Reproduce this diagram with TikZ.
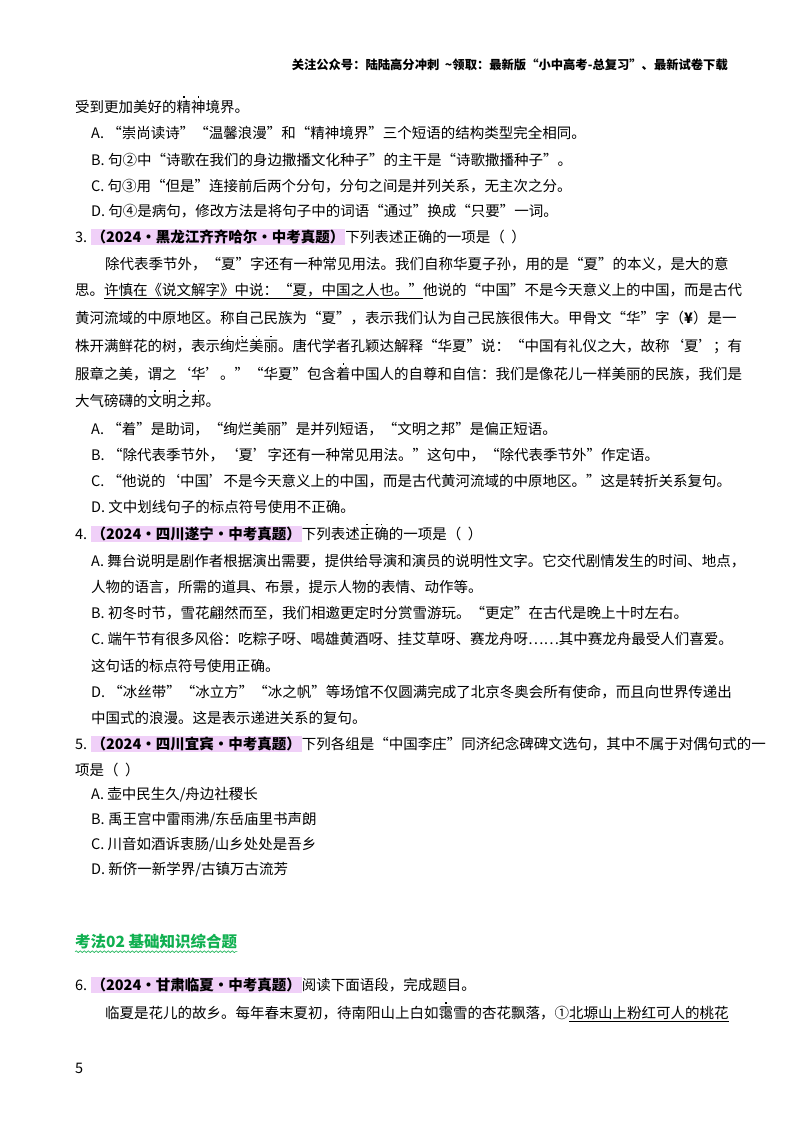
\documentclass[tikz,border=0pt]{standalone}
\usepackage{fontspec}
\usepackage{xcolor}
\usetikzlibrary{decorations.pathmorphing}
\setmainfont{Noto Sans CJK SC}
\definecolor{hl}{HTML}{F0D0F8}
\definecolor{kg}{HTML}{10B050}
\newcommand\zd[1]{\leavevmode\rlap{\raisebox{1.0em}{\makebox[1em]{\rule{1.4pt}{1.4pt}}}}#1}
\newcommand\tag[1]{{\setlength\fboxsep{1pt}\colorbox{hl}{\bfseries #1}}}
\begin{document}
\begin{tikzpicture}[x=1pt,y=-1pt,
  t/.style={anchor=west,inner sep=0pt,font=\fontsize{14.5}{15}\selectfont},
  hd/.style={anchor=east,inner sep=0pt,font=\fontsize{12.3}{13}\selectfont\bfseries}]
\useasboundingbox[fill=white] (0,0) rectangle (800,1132);
\node[hd] (h) at (728,65) {关注公众号：陆陆高分冲刺\ \ \~{}领取：最新版“小中高考-总复习”、最新试卷下载};
\node[t] (l1) at (75,105) {受到更加美好的\zd{精}\zd{神}境界。};
\node[t] (a2) at (91,133) {A.\ “崇尚读诗”“温馨浪漫”和“精神境界”三个短语的结构类型完全相同。};
\node[t] (b2) at (91,160) {B.\ 句②中“诗歌在我们的身边撒播文化种子”的主干是“诗歌撒播种子”。};
\node[t] (c2) at (91,186) {C.\ 句③用“但是”连接前后两个分句，分句之间是并列关系，无主次之分。};
\node[t] (d2) at (91,211) {D.\ 句④是病句，修改方法是将句子中的词语“通过”换成“只要”一词。};
\node[t] (q3) at (75,237) {3.\ \tag{（2024·黑龙江齐齐哈尔·中考真题）}下列表述正确的一项是（\ \ ）};
\node[t] (p1) at (105,264) {除代表季节外，“夏”字还有一种常见用法。我们自称华夏子孙，用的是“夏”的本义，是大的意};
\node[t] (p2) at (75,291) {思。\underline{许慎在《说文解字》中说：“夏，中国之人也。”}他说的“中国”不是今天意义上的中国，而是古代};
\node[t] (p3) at (75,318) {黄河流域的中原地区。称自己民族为“夏”，表示我们认为自己民族很伟大。甲骨文“华”字（\textbf{¥}）是一};
\node[t] (p4) at (75,345) {株开满鲜花的树，表示\zd{绚}\zd{烂}\zd{美}\zd{丽}。唐代学者孔颖达解释“华夏”说：“中国有礼仪之大，故称‘夏’；有};
\node[t] (p5) at (75,372) {服章之美，谓之‘华’。”“华夏”包含\zd{着}中国人的自尊和自信：我们是像花儿一样美丽的民族，我们是};
\node[t] (p6) at (75,399) {大气磅礴的\zd{文}\zd{明}\zd{之}\zd{邦}。};
\node[t] (a3) at (91,429) {A.\ “着”是助词，“绚烂美丽”是并列短语，“文明之邦”是偏正短语。};
\node[t] (b3) at (91,455) {B.\ “除代表季节外，‘夏’字还有一种常见用法。”这句中，“除代表季节外”作定语。};
\node[t] (c3) at (91,481) {C.\ “他说的‘中国’不是今天意义上的中国，而是古代黄河流域的中原地区。”这是转折关系复句。};
\node[t] (d3) at (91,507) {D.\ 文中划线句子的标点符号使用不正确。};
\node[t] (q4) at (75,533) {4.\ \tag{（2024·四川遂宁·中考真题）}下列表述\zd{正}\zd{确}的一项是（\ \ ）};
\node[t] (a4) at (91,561) {A.\ 舞台说明是剧作者根据演出需要，提供给导演和演员的说明性文字。它交代剧情发生的时间、地点，};
\node[t] (a4b) at (91,587) {人物的语言，所需的道具、布景，提示人物的表情、动作等。};
\node[t] (b4) at (91,613) {B.\ 初冬时节，雪花翩然而至，我们相邀更定时分赏雪游玩。“更定”在古代是晚上十时左右。};
\node[t] (c4) at (91,639) {C.\ 端午节有很多风俗：吃粽子呀、喝雄黄酒呀、挂艾草呀、赛龙舟呀……其中赛龙舟最受人们喜爱。};
\node[t] (c4b) at (91,666) {这句话的标点符号使用正确。};
\node[t] (d4) at (91,692) {D.\ “冰丝带”“冰立方”“冰之帆”等场馆不仅圆满完成了北京冬奥会所有使命，而且向世界传递出};
\node[t] (d4b) at (91,718) {中国式的浪漫。这是表示递进关系的复句。};
\node[t] (q5) at (75,744) {5.\ \tag{（2024·四川宜宾·中考真题）}下列各组是“中国李庄”同济纪念碑碑文选句，其中不属于对偶句式的一};
\node[t] (q5b) at (75,770) {项是（\ \ ）};
\node[t] (a5) at (91,795) {A.\ 壶中民生久/舟边社稷长};
\node[t] (b5) at (91,820) {B.\ 禹王宫中雷雨沸/东岳庙里书声朗};
\node[t] (c5) at (91,845) {C.\ 川音如酒诉衷肠/山乡处处是吾乡};
\node[t] (d5) at (91,870) {D.\ 新侪一新学界/古镇万古流芳};
\node[t,text=kg,font=\fontsize{15.5}{16}\selectfont\bfseries] (kf) at (75,942) {考法02\ 基础知识综合题};
\draw[kg,line width=0.6pt,decorate,decoration={snake,amplitude=0.9pt,segment length=4pt}] ([yshift=-2pt]kf.south west) -- ([yshift=-2pt]kf.south east);
\node[t] (q6) at (75,985) {6.\ \tag{（2024·甘肃临夏·中考真题）}阅读下面语段，完成题目。};
\node[t] (p61) at (105,1012) {临夏是花儿的故乡。每年春末夏初，待南阳山上白如\zd{霭}雪的杏花飘落，①\underline{北塬山上粉红可人的桃花}};
\node[t] (pg) at (75,1068) {5};
\end{tikzpicture}
\end{document}
